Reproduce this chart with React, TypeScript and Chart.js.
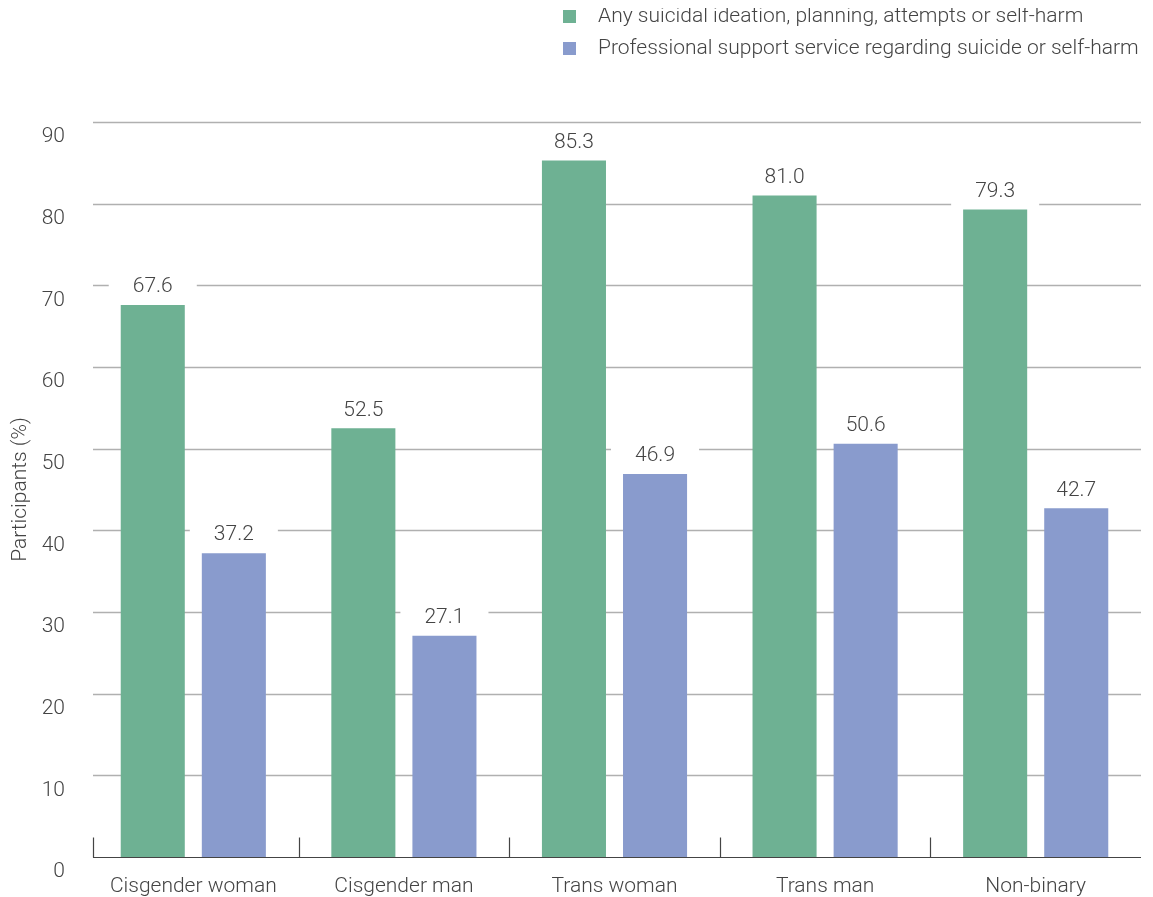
import React, { useEffect, useRef } from "react";
import { Chart, registerables } from "chart.js";

Chart.register(...registerables);

const categories = ["Cisgender woman", "Cisgender man", "Trans woman", "Trans man", "Non-binary"];
const ideationValues = [67.6, 52.5, 85.3, 81.0, 79.3];
const supportValues = [37.2, 27.1, 46.9, 50.6, 42.7];
const seriesNames = [
  "Any suicidal ideation, planning, attempts or self-harm",
  "Professional support service regarding suicide or self-harm",
];
const yTicks = [0, 10, 20, 30, 40, 50, 60, 70, 80, 90];

const GREEN = "rgb(110,177,147)";
const BLUE = "rgb(137,155,205)";
const TEXT = "#444";
const FONT = "Roboto";
const FS = 21;

const gridPlugin = {
  id: "customGrid",
  beforeDatasetsDraw(chart: any) {
    const { ctx, chartArea, scales } = chart;
    const y = scales.y;
    const x = scales.x;
    const left = chartArea.left + 5;
    const right = chartArea.right;
    ctx.save();
    ctx.strokeStyle = "#b0b0b0";
    ctx.lineWidth = 1.5;
    yTicks.forEach((v) => {
      if (v === 0) return;
      const py = Math.round(y.getPixelForValue(v)) + 0.5;
      ctx.beginPath();
      ctx.moveTo(left, py);
      ctx.lineTo(right, py);
      ctx.stroke();
    });
    const base = Math.round(y.getPixelForValue(0)) + 0.5;
    ctx.strokeStyle = "#444";
    ctx.lineWidth = 1.2;
    ctx.beginPath();
    ctx.moveTo(left, base);
    ctx.lineTo(right, base);
    ctx.stroke();
    const n = categories.length;
    for (let i = 0; i < n; i++) {
      const bx = i === 0 ? left : (x.getPixelForTick(i - 1) + x.getPixelForTick(i)) / 2;
      const px = Math.round(bx) + 0.5;
      ctx.beginPath();
      ctx.moveTo(px, base);
      ctx.lineTo(px, base - 20);
      ctx.stroke();
    }
    ctx.restore();
  },
};

const labelPlugin = {
  id: "barLabels",
  afterDatasetsDraw(chart: any) {
    const { ctx } = chart;
    ctx.save();
    chart.data.datasets.forEach((ds: any, di: number) => {
      const meta = chart.getDatasetMeta(di);
      meta.data.forEach((bar: any, i: number) => {
        const w = bar.width;
        ctx.fillStyle = "#fff";
        ctx.fillRect(bar.x - w / 2 - 12, bar.y - 32, w + 24, 31);
        ctx.fillStyle = TEXT;
        ctx.font = `300 ${FS}px ${FONT}`;
        ctx.textAlign = "center";
        ctx.textBaseline = "middle";
        ctx.fillText(Number(ds.data[i]).toFixed(1), bar.x, bar.y - 18);
      });
    });
    ctx.restore();
  },
};

const legendPlugin = {
  id: "customLegend",
  afterDraw(chart: any) {
    const { ctx } = chart;
    const colors = [GREEN, BLUE];
    ctx.save();
    ctx.font = `300 ${FS}px ${FONT}`;
    ctx.textBaseline = "middle";
    ctx.textAlign = "left";
    seriesNames.forEach((name, i) => {
      const cy = 9 + i * 32;
      ctx.fillStyle = colors[i];
      ctx.fillRect(555, cy - 7, 13, 13);
      ctx.fillStyle = TEXT;
      ctx.fillText(name, 590, cy);
    });
    ctx.restore();
  },
};

export default function App() {
  const ref = useRef<HTMLCanvasElement>(null);
  useEffect(() => {
    if (!ref.current) return;
    const chart = new Chart(ref.current, {
      type: "bar",
      data: {
        labels: categories,
        datasets: [
          { label: seriesNames[0], data: ideationValues, backgroundColor: GREEN },
          { label: seriesNames[1], data: supportValues, backgroundColor: BLUE },
        ],
      },
      options: {
        animation: false,
        responsive: false,
        devicePixelRatio: 1,
        layout: { padding: { top: 114, right: 4, left: 0, bottom: 0 } },
        plugins: { legend: { display: false }, tooltip: { enabled: false } },
        datasets: {
          bar: { categoryPercentage: 0.77, barPercentage: 0.79 },
        },
        scales: {
          x: {
            grid: { display: false },
            border: { display: false },
            ticks: { color: TEXT, font: { family: FONT, size: FS, weight: "300" as any }, padding: 9 },
            afterFit(scale: any) {
              scale.height = 40;
            },
          },
          y: {
            min: 0,
            max: 90,
            grid: { display: false },
            border: { display: false },
            afterBuildTicks(scale: any) {
              scale.ticks = yTicks.map((v) => ({ value: v }));
            },
            ticks: {
              color: TEXT,
              font: { family: FONT, size: FS, weight: "300" as any },
              padding: 15,
              labelOffset: 15,
            },
            title: {
              display: true,
              text: "Participants (%)",
              color: TEXT,
              font: { family: FONT, size: FS, weight: "300" as any },
              padding: 0,
            },
            afterFit(scale: any) {
              scale.width = 80;
            },
          },
        },
      },
      plugins: [gridPlugin, labelPlugin, legendPlugin],
    });
    return () => chart.destroy();
  }, []);
  return <canvas ref={ref} width={1137} height={889} style={{ display: "block" }} />;
}
